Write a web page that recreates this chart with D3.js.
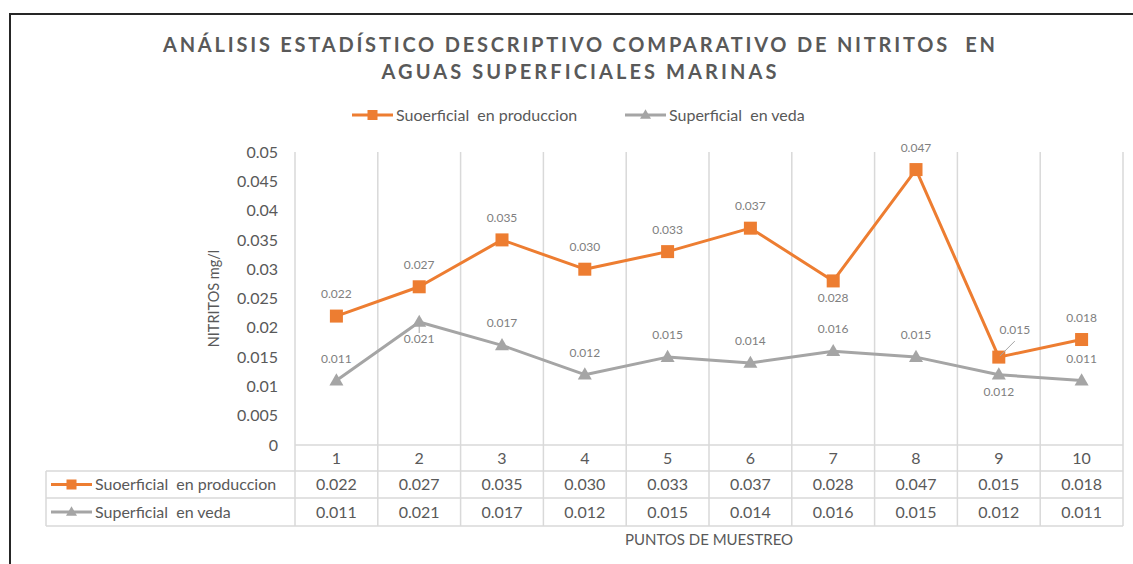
<!DOCTYPE html>
<html>
<head>
<meta charset="utf-8">
<script src="https://cdn.jsdelivr.net/npm/d3@7"></script>
<style>
  body { margin: 0; background: #fff; }
  svg text { font-family: Lato, "Open Sans", sans-serif; white-space: pre; }
</style>
</head>
<body>
<div id="chart"></div>
<script>
// Data
const puntos = ["1", "2", "3", "4", "5", "6", "7", "8", "9", "10"];
const produccion = [0.022, 0.027, 0.035, 0.030, 0.033, 0.037, 0.028, 0.047, 0.015, 0.018];
const veda = [0.011, 0.021, 0.017, 0.012, 0.015, 0.014, 0.016, 0.015, 0.012, 0.011];
const yTicks = [0, 0.005, 0.01, 0.015, 0.02, 0.025, 0.03, 0.035, 0.04, 0.045, 0.05];
// label position per point: "a" above, "b" below, "r" up-right with leader
const prodLabelPos = ["a", "a", "a", "a", "a", "a", "b", "a", "r", "a"];
const vedaLabelPos = ["a", "b", "a", "a", "a", "a", "a", "a", "b", "a"];

const titleLines = ["ANÁLISIS ESTADÍSTICO DESCRIPTIVO COMPARATIVO DE NITRITOS  EN", "AGUAS SUPERFICIALES MARINAS"];
const seriesNames = ["Suoerficial  en produccion", "Superficial  en veda"];
const orange = "#ED7D31", gray = "#A5A5A5", textColor = "#595959", gridColor = "#D9D9D9";

const width = 1133, height = 564;
const plot = { left: 295, right: 1123, top: 152, bottom: 445 };
const rowH = [445, 471, 498, 526];
const tableLeft = 46;

const svg = d3.select("#chart").append("svg")
  .attr("width", width)
  .attr("height", height);

// outer frame
svg.append("path")
  .attr("d", "M10,564 L10,14 L1133,14")
  .attr("fill", "none")
  .attr("stroke", "#262626")
  .attr("stroke-width", 2);

// title
const titleWidths = [832, 395];
titleLines.forEach((t, i) => {
  svg.append("text")
    .attr("x", 579)
    .attr("y", 52 + i * 27)
    .attr("text-anchor", "middle")
    .attr("textLength", titleWidths[i])
    .attr("lengthAdjust", "spacing")
    .style("font-size", "20px")
    .style("font-weight", "bold")
    .style("fill", textColor)
    .text(t);
});

const x = d3.scaleBand().domain(puntos).range([plot.left, plot.right]);
const y = d3.scaleLinear().domain([0, 0.05]).range([plot.bottom, plot.top]);
const cx = d => x(d) + x.bandwidth() / 2;

// vertical gridlines (extend through table)
const bounds = puntos.map(p => x(p)).concat([plot.right]);
svg.append("g").selectAll("line")
  .data(bounds)
  .enter().append("line")
  .attr("x1", d => d).attr("x2", d => d)
  .attr("y1", plot.top).attr("y2", rowH[3])
  .attr("stroke", gridColor).attr("stroke-width", 1.5);

// horizontal table lines
svg.append("line")
  .attr("x1", plot.left).attr("x2", plot.right)
  .attr("y1", rowH[0]).attr("y2", rowH[0])
  .attr("stroke", gridColor).attr("stroke-width", 1.5);
rowH.slice(1).forEach(h => {
  svg.append("line")
    .attr("x1", tableLeft).attr("x2", plot.right)
    .attr("y1", h).attr("y2", h)
    .attr("stroke", gridColor).attr("stroke-width", 1.5);
});
svg.append("line")
  .attr("x1", tableLeft).attr("x2", tableLeft)
  .attr("y1", rowH[1]).attr("y2", rowH[3])
  .attr("stroke", gridColor).attr("stroke-width", 1.5);

// y axis ticks
const yAxis = svg.append("g")
  .attr("transform", "translate(" + (plot.left - 17) + ",0)")
  .call(d3.axisLeft(y).tickValues(yTicks).tickSize(0).tickPadding(0).tickFormat(d => String(+d.toFixed(3))));
yAxis.select(".domain").remove();
yAxis.selectAll("text")
  .style("font-family", "Lato, sans-serif")
  .style("font-size", "16px")
  .style("fill", textColor);

// y axis title
svg.append("text")
  .attr("transform", "translate(219," + ((plot.top + plot.bottom) / 2) + ") rotate(-90)")
  .attr("text-anchor", "middle")
  .style("font-size", "14.5px")
  .style("fill", textColor)
  .text("NITRITOS mg/l");

// markers
function square(g, px, py, s, color) {
  g.append("rect")
    .attr("x", px - s / 2).attr("y", py - s / 2)
    .attr("width", s).attr("height", s)
    .attr("fill", color);
}
function triangle(g, px, py, s, color) {
  const h = s * 0.87;
  g.append("path")
    .attr("d", `M${px},${py - h * 0.6} L${px + s / 2},${py + h * 0.4} L${px - s / 2},${py + h * 0.4} Z`)
    .attr("fill", color);
}

const line = d3.line().x((d, i) => cx(puntos[i])).y(d => y(d));

const series = [
  { values: veda, color: gray, marker: triangle, size: 14, pos: vedaLabelPos },
  { values: produccion, color: orange, marker: square, size: 13, pos: prodLabelPos }
];

series.forEach(s => {
  svg.append("path")
    .datum(s.values)
    .attr("d", line)
    .attr("fill", "none")
    .attr("stroke", s.color)
    .attr("stroke-width", 3)
    .attr("stroke-linejoin", "round");
  const g = svg.append("g");
  s.values.forEach((v, i) => s.marker(g, cx(puntos[i]), y(v), s.size, s.color));
});

// data labels
const labels = svg.append("g")
  .style("font-size", "12px")
  .style("fill", "#808080");
series.forEach(s => {
  s.values.forEach((v, i) => {
    const px = cx(puntos[i]), py = y(v);
    let lx = px, ly;
    if (s.pos[i] === "a") ly = py - 18;
    else if (s.pos[i] === "b") ly = py + 21;
    else { lx = px + 16; ly = py - 23; }
    labels.append("text")
      .attr("x", lx).attr("y", ly)
      .attr("text-anchor", "middle")
      .text(v.toFixed(3));
  });
});
// leader lines
svg.append("line")
  .attr("x1", cx(puntos[1])).attr("x2", cx(puntos[1]))
  .attr("y1", y(veda[1]) + 2).attr("y2", y(veda[1]) + 11)
  .attr("stroke", "#A5A5A5").attr("stroke-width", 1);
svg.append("line")
  .attr("x1", cx(puntos[8]) + 1).attr("x2", cx(puntos[8]) + 16)
  .attr("y1", y(produccion[8]) - 1).attr("y2", y(produccion[8]) - 16)
  .attr("stroke", "#A5A5A5").attr("stroke-width", 1);

// legend
function legendKey(g, lx, ly, s) {
  g.append("line")
    .attr("x1", lx).attr("x2", lx + 41)
    .attr("y1", ly).attr("y2", ly)
    .attr("stroke", s.color).attr("stroke-width", 3);
  s.marker(g, lx + 20.5, ly, s.marker === square ? 10 : 11, s.color);
}
const legend = svg.append("g");
const legendItems = [
  { s: series[1], x: 352, name: seriesNames[0] },
  { s: series[0], x: 625, name: seriesNames[1] }
];
legendItems.forEach(it => {
  legendKey(legend, it.x, 115, it.s);
  legend.append("text")
    .attr("x", it.x + 44).attr("y", 120.5)
    .style("font-size", "16px")
    .style("fill", textColor)
    .text(it.name);
});

// table: categories
svg.append("g").selectAll("text")
  .data(puntos)
  .enter().append("text")
  .attr("x", d => cx(d))
  .attr("y", 463.5)
  .attr("text-anchor", "middle")
  .style("font-size", "16px")
  .style("fill", textColor)
  .text(d => d);

// table rows
const rows = [
  { s: series[1], name: seriesNames[0], values: produccion },
  { s: series[0], name: seriesNames[1], values: veda }
];
rows.forEach((r, k) => {
  const mid = (rowH[k + 1] + rowH[k + 2]) / 2;
  const g = svg.append("g");
  legendKey(g, 51, mid, r.s);
  g.append("text")
    .attr("x", 95).attr("y", mid + 5.5)
    .style("font-size", "16px")
    .style("fill", textColor)
    .text(r.name);
  g.selectAll(".val")
    .data(r.values)
    .enter().append("text")
    .attr("class", "val")
    .attr("x", (d, i) => cx(puntos[i]))
    .attr("y", mid + 5.5)
    .attr("text-anchor", "middle")
    .style("font-size", "16px")
    .style("fill", textColor)
    .text(d => d.toFixed(3));
});

// x axis title
svg.append("text")
  .attr("x", (plot.left + plot.right) / 2)
  .attr("y", 545)
  .attr("text-anchor", "middle")
  .style("font-size", "15px")
  .style("fill", textColor)
  .text("PUNTOS DE MUESTREO");
</script>
</body>
</html>
